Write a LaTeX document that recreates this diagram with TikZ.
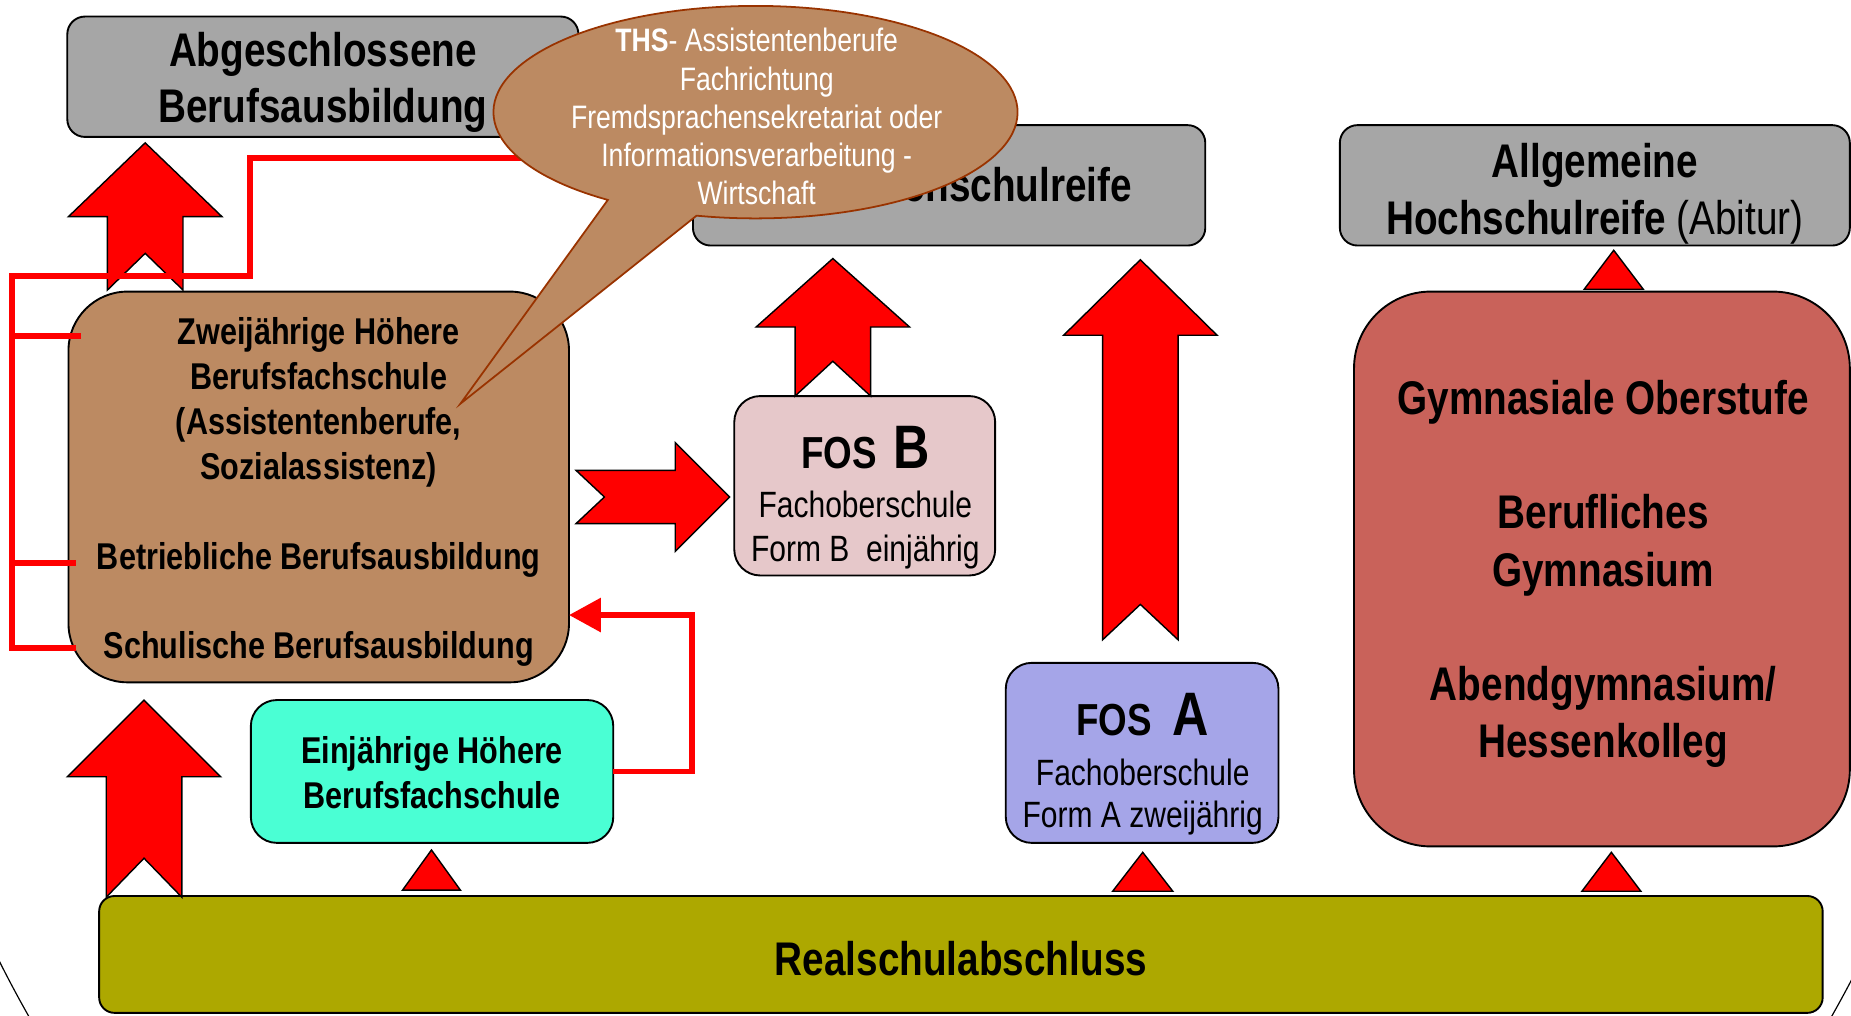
\documentclass[tikz,border=0pt]{standalone}
\usepackage{fontspec}
\setmainfont{Liberation Sans}[FakeStretch=0.82]
\usetikzlibrary{arrows.meta}
\definecolor{grayfill}{HTML}{A6A6A6}
\definecolor{brownfill}{HTML}{BC8A62}
\definecolor{calloutline}{HTML}{993300}
\definecolor{fosbfill}{HTML}{E6C8CA}
\definecolor{fosafill}{HTML}{A5A5E8}
\definecolor{einfill}{HTML}{4AFFD4}
\definecolor{gymfill}{HTML}{C9625A}
\definecolor{realfill}{HTML}{ADA800}
\definecolor{arrowred}{HTML}{FF0000}
\newcommand\fz[1]{\fontsize{#1}{#1}\selectfont}
\begin{document}
\begin{tikzpicture}[x=1pt,y=-1pt,
  box/.style={draw=black, line width=1.6pt, inner sep=0pt, outer sep=0pt, rectangle},
  blockarrow/.style={fill=arrowred, draw=black, line width=1.2pt, line join=miter},
  tri/.style={fill=arrowred, draw=black, line width=1.2pt},
  redline/.style={draw=arrowred, line width=5pt},
  t/.style={inner sep=0pt, anchor=base},
  tb40/.style={t, font=\fz{40}\bfseries},
  tb32/.style={t, font=\fz{31.6}\bfseries},
  tr31/.style={t, font=\fz{31}},
  tc/.style={t, font=\fz{27.5}, text=white},
  callout/.style={fill=brownfill, draw=calloutline, line width=1.5pt, line join=miter},
]
\useasboundingbox (0,0) rectangle (1568,860);
\clip (0,0) rectangle (1568,860);

% background outline
\draw[line width=1pt] (788,300) ellipse [x radius=908.4, y radius=1035.2];

% boxes
\node[box, fill=grayfill, rounded corners=15pt, minimum width=433pt, minimum height=102pt] (abg) at (273.5,65) {};
\node[box, fill=grayfill, rounded corners=15pt, minimum width=434pt, minimum height=102pt] (fhr) at (804,157) {};
\node[box, fill=grayfill, rounded corners=15pt, minimum width=432pt, minimum height=102pt] (ahr) at (1351,157) {};
\node[box, fill=gymfill, rounded corners=65pt, minimum width=420pt, minimum height=470pt] (gym) at (1357,482) {};
\node[box, fill=brownfill, rounded corners=50pt, minimum width=424pt, minimum height=331pt] (zwei) at (270,412.5) {};
\node[box, fill=fosbfill, rounded corners=22pt, minimum width=221pt, minimum height=152pt] (fosb) at (732.5,411.5) {};
\node[box, fill=fosafill, rounded corners=22pt, minimum width=231pt, minimum height=152.5pt] (fosa) at (967.5,637.75) {};
\node[box, fill=einfill, rounded corners=22pt, minimum width=307pt, minimum height=121pt] (ein) at (366,653.5) {};
\node[box, fill=realfill, rounded corners=13pt, minimum width=1460pt, minimum height=99pt] (real) at (814,808.5) {};

% box texts
\node[tb40] (tabg1) at (273.5,56) {Abgeschlossene};
\node[tb40] (tabg2) at (273.5,104) {Berufsausbildung};
\node[tb40] (tfhr) at (804,171) {Fachhochschulreife};
\node[tb40] (tahr1) at (1351,150) {Allgemeine};
\node[tb40] (tahr2) at (1351,199) {Hochschulreife {\mdseries(Abitur)}};

\node[tb40] (tgym1) at (1358,351) {Gymnasiale Oberstufe};
\node[tb40] (tgym2) at (1358,448) {Berufliches};
\node[tb40] (tgym3) at (1358,496.5) {Gymnasium};
\node[tb40] (tgym4) at (1358,593.5) {Abendgymnasium/};
\node[tb40] (tgym5) at (1358,642) {Hessenkolleg};

\node[tb32] (tz1) at (270,291.5) {Zweijährige Höhere};
\node[tb32] (tz2) at (270,329.6) {Berufsfachschule};
\node[tb32] (tz3) at (270,367.7) {(Assistentenberufe,};
\node[tb32] (tz4) at (270,405.8) {Sozialassistenz)};
\node[tb32] (tz5) at (270,482) {Betriebliche Berufsausbildung};
\node[tb32] (tz6) at (270,558.2) {Schulische Berufsausbildung};

\node[tb32] (te1) at (366,647) {Einjährige Höhere};
\node[tb32] (te2) at (366,685) {Berufsfachschule};

\node[t, font=\bfseries] (tfb1) at (733,397) {\fz{38}FOS\hspace{14pt}\fz{52}B};
\node[tr31] (tfb2) at (733,438) {Fachoberschule};
\node[tr31] (tfb3) at (733,476) {Form B\ \ einjährig};

\node[t, font=\bfseries] (tfa1) at (968,623) {\fz{38}FOS\hspace{18pt}\fz{52}A};
\node[tr31] (tfa2) at (968,665) {Fachoberschule};
\node[tr31] (tfa3) at (968,701) {Form A zweijährig};

\node[tb40] (treal) at (814,826) {Realschulabschluss};

% block arrows
\draw[blockarrow] (123,121) -- (188,183.5) -- (155,183.5) -- (155,245.7) -- (123,214.6) -- (91,245.7) -- (91,183.5) -- (58,183.5) -- cycle;
\draw[blockarrow] (122,593) -- (187,658) -- (154,658) -- (154,760) -- (122,727) -- (90,760) -- (90,658) -- (57,658) -- cycle;
\draw[blockarrow] (705.5,219) -- (770.5,277) -- (737.5,277) -- (737.5,335.5) -- (705.5,306) -- (673.5,335.5) -- (673.5,277) -- (640.5,277) -- cycle;
\draw[blockarrow] (966,220) -- (1031,284) -- (998,284) -- (998,542) -- (966,512) -- (934,542) -- (934,284) -- (901,284) -- cycle;
\draw[blockarrow] (618,421) -- (572,467) -- (572,443.5) -- (488,443.5) -- (512,421) -- (488,398.5) -- (572,398.5) -- (572,375) -- cycle;

% small triangles
\draw[tri] (365.5,720) -- (390,754) -- (341,754) -- cycle;
\draw[tri] (968,722) -- (993.5,755) -- (942.5,755) -- cycle;
\draw[tri] (1365,722) -- (1390,755) -- (1340,755) -- cycle;
\draw[tri] (1367,212) -- (1392,245) -- (1342,245) -- cycle;

% red connector lines
\coordinate (brstart) at (470,134);
\coordinate (brtop) at (212,134);
\coordinate (brcorner) at (212,234);
\coordinate (brleft) at (10,234);
\coordinate (brbottom) at (10,549);
\draw[redline] (brstart) -- (brtop) -- (brcorner) -- (brleft) -- (brbottom) -- (64,549);
\draw[redline] (10,285) -- (69,285);
\draw[redline] (10,477) -- (64,477);
\coordinate (einturn) at (586,653.5);
\draw[redline, -{Triangle[length=27pt, width=28pt]}] (ein.east) -- (einturn) -- (einturn |- 0,521) -- (zwei.east |- 0,521);

% callout
\draw[callout] (640,95) ++(124.3:222 and 90) arc[start angle=124.3, end angle=463, x radius=222, y radius=90] -- (390,342) -- cycle;
\node[tc] (c1) at (641,44) {\textbf{THS}- Assistentenberufe};
\node[tc] (c2) at (641,76.4) {Fachrichtung};
\node[tc] (c3) at (641,108.8) {Fremdsprachensekretariat oder};
\node[tc] (c4) at (641,141.2) {Informationsverarbeitung -};
\node[tc] (c5) at (641,173.6) {Wirtschaft};
\end{tikzpicture}
\end{document}
